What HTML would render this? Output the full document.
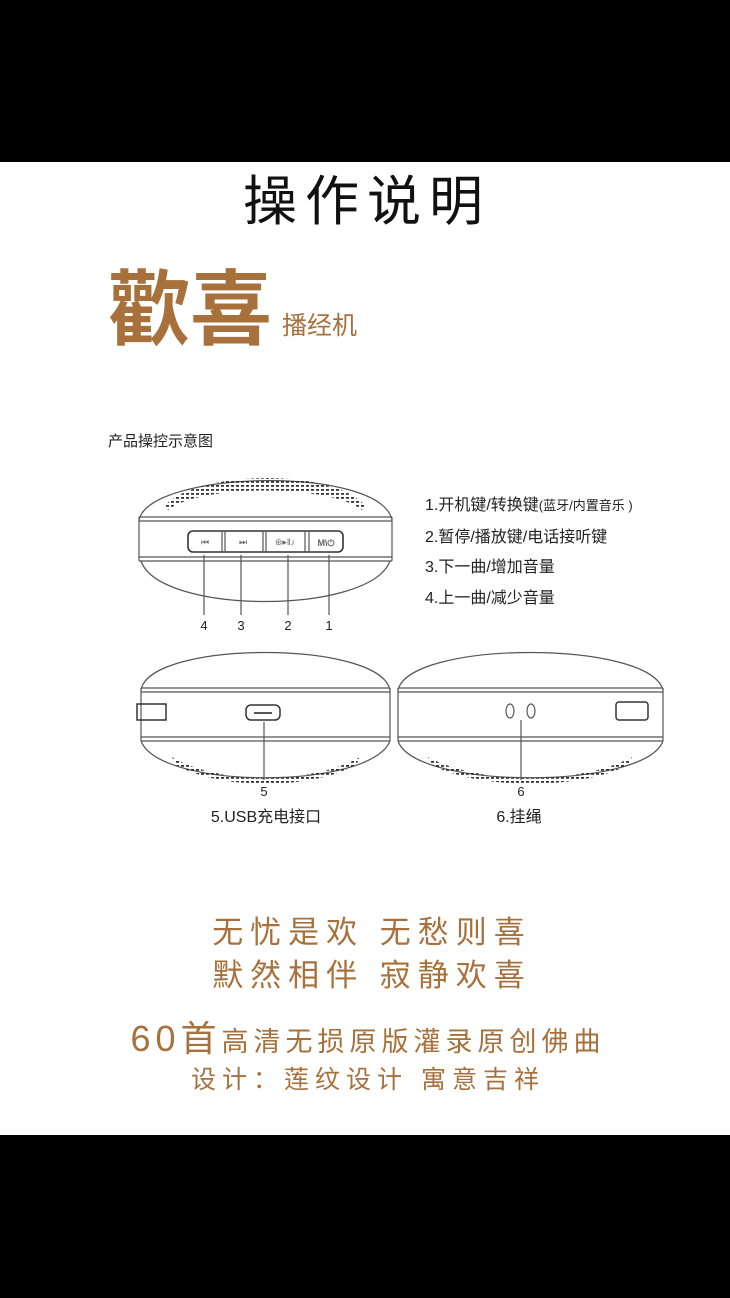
<!DOCTYPE html>
<html><head><meta charset="utf-8"><style>
html,body{margin:0;padding:0;width:730px;height:1298px;background:#000;overflow:hidden}
svg{display:block}
text{font-family:"Liberation Sans","Noto Sans CJK SC",sans-serif}
</style></head><body>
<svg width="730" height="1298" viewBox="0 0 730 1298" xmlns="http://www.w3.org/2000/svg">
<defs>
<pattern id="dots" width="5" height="4" patternUnits="userSpaceOnUse">
<rect x="1" y="1" width="3" height="1.8" fill="#333"/>
</pattern>
</defs>
<rect x="0" y="162" width="730" height="973" fill="#fff"/>
<text x="367" y="220" font-size="54" letter-spacing="8" text-anchor="middle" fill="#111" font-family="Noto Sans CJK SC,sans-serif">操作说明</text>
<text x="108" y="338" font-size="82" font-weight="bold" fill="#a8713b" font-family="Noto Serif CJK SC,serif">歡喜</text>
<text x="282" y="334" font-size="25" fill="#a8713b">播经机</text>
<text x="108" y="446" font-size="15" fill="#222">产品操控示意图</text>

<g fill="none" stroke="#555" stroke-width="1.2">
<path d="M139,520 C150,470 380,465 392,520" />
<path d="M165,505 C200,470 330,468 365,505 L362,510 C330,484 200,484 168,510 Z" fill="url(#dots)" stroke="none"/>
<line x1="139" y1="517" x2="392" y2="517"/><line x1="139" y1="521" x2="392" y2="521"/>
<line x1="139" y1="557" x2="392" y2="557"/><line x1="139" y1="561" x2="392" y2="561"/>
<line x1="139" y1="517" x2="139" y2="561"/><line x1="392" y1="517" x2="392" y2="561"/>
<path d="M141,561 C160,615 370,615 390,561"/>
<rect x="188" y="531" width="155" height="21" rx="5" stroke="#333" stroke-width="1.6"/>
<line x1="222" y1="531" x2="222" y2="552"/><line x1="225" y1="531" x2="225" y2="552"/>
<line x1="263" y1="531" x2="263" y2="552"/><line x1="266" y1="531" x2="266" y2="552"/>
<line x1="305" y1="531" x2="305" y2="552"/><line x1="309" y1="531" x2="309" y2="552"/>
<line x1="204" y1="555" x2="204" y2="615"/><line x1="241" y1="555" x2="241" y2="615"/>
<line x1="288" y1="555" x2="288" y2="615"/><line x1="329" y1="555" x2="329" y2="615"/>
</g>
<g font-size="9" fill="#666" text-anchor="middle">
<text x="205" y="545">⏮</text><text x="243" y="545">⏭</text><text x="285" y="545">⊛▸‖♪</text><text x="326" y="546" font-weight="bold">M\⏻</text>
</g>
<g font-size="13" fill="#222" text-anchor="middle">
<text x="204" y="630">4</text><text x="241" y="630">3</text><text x="288" y="630">2</text><text x="329" y="630">1</text>
</g>
<g font-size="16" fill="#222">
<text x="425" y="510">1.开机键/转换键<tspan font-size="13">(蓝牙/内置音乐 )</tspan></text>
<text x="425" y="542">2.暂停/播放键/电话接听键</text>
<text x="425" y="572">3.下一曲/增加音量</text>
<text x="425" y="603">4.上一曲/减少音量</text>
</g>

<g fill="none" stroke="#555" stroke-width="1.2">
<path d="M141,690 C150,640 380,640 390,690"/>
<line x1="141" y1="688" x2="390" y2="688"/><line x1="141" y1="692" x2="390" y2="692"/>
<line x1="141" y1="737" x2="390" y2="737"/><line x1="141" y1="741" x2="390" y2="741"/>
<line x1="141" y1="688" x2="141" y2="741"/><line x1="390" y1="688" x2="390" y2="741"/>
<path d="M141,741 C160,790 370,790 390,741"/>
<path d="M172,757 C220,785 310,785 360,757 L356,765 C310,790 220,790 176,765Z" fill="url(#dots)" stroke="none"/>
<rect x="137" y="704" width="29" height="16" stroke="#333" stroke-width="1.5"/>
<rect x="246" y="705" width="34" height="15" rx="5" stroke="#333" stroke-width="1.5"/>
<line x1="254" y1="713" x2="272" y2="713" stroke-width="2"/>
<line x1="264" y1="722" x2="264" y2="780"/>
<path d="M398,690 C410,640 650,640 663,690"/>
<line x1="398" y1="688" x2="663" y2="688"/><line x1="398" y1="692" x2="663" y2="692"/>
<line x1="398" y1="737" x2="663" y2="737"/><line x1="398" y1="741" x2="663" y2="741"/>
<line x1="398" y1="688" x2="398" y2="741"/><line x1="663" y1="688" x2="663" y2="741"/>
<path d="M398,741 C415,790 645,790 663,741"/>
<path d="M428,757 C480,785 580,785 632,757 L628,765 C580,790 480,790 432,765Z" fill="url(#dots)" stroke="none"/>
<rect x="616" y="702" width="32" height="18" rx="3" stroke="#333" stroke-width="1.5"/>
<ellipse cx="510" cy="711" rx="4" ry="7"/><ellipse cx="531" cy="711" rx="4" ry="7"/>
<line x1="521" y1="720" x2="521" y2="780"/>
</g>
<text x="264" y="796" font-size="13" fill="#222" text-anchor="middle">5</text>
<text x="521" y="796" font-size="13" fill="#222" text-anchor="middle">6</text>
<text x="266" y="822" font-size="16" fill="#222" text-anchor="middle">5.USB充电接口</text>
<text x="519" y="822" font-size="16" fill="#222" text-anchor="middle">6.挂绳</text>

<g fill="#a8713b" text-anchor="middle">
<text x="372" y="943" font-size="31" letter-spacing="7">无忧是欢  无愁则喜</text>
<text x="372" y="986" font-size="31" letter-spacing="7">默然相伴  寂静欢喜</text>
<text x="368" y="1051" font-size="27" letter-spacing="5"><tspan font-size="36">60首</tspan>高清无损原版灌录原创佛曲</text>
<text x="368" y="1088" font-size="25" letter-spacing="6">设计：莲纹设计 寓意吉祥</text>
</g>
</svg>
</body></html>
